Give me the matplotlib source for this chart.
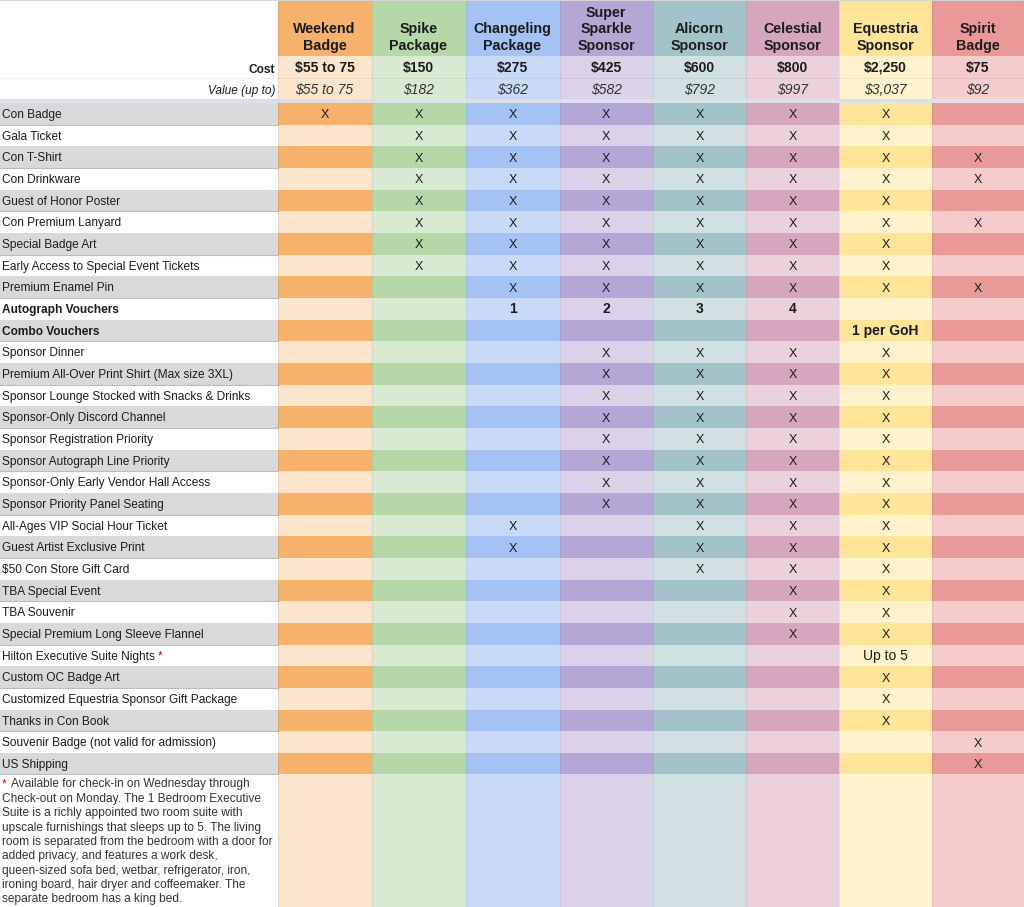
import matplotlib
matplotlib.use("Agg")
import matplotlib.pyplot as plt
from matplotlib.patches import Rectangle

plt.rcParams['font.family'] = ['Liberation Sans', 'DejaVu Sans']

tiers = ["Weekend\nBadge", "Spike\nPackage", "Changeling\nPackage", "Super\nSparkle\nSponsor",
         "Alicorn\nSponsor", "Celestial\nSponsor", "Equestria\nSponsor", "Spirit\nBadge"]
costs = ["$55 to 75", "$150", "$275", "$425", "$600", "$800", "$2,250", "$75"]
values = ["$55 to 75", "$182", "$362", "$582", "$792", "$997", "$3,037", "$92"]
dark = ["#F6B26B", "#B6D7A8", "#A4C2F4", "#B4A7D6", "#A2C4C9", "#D5A6BD", "#FFE599", "#EA9999"]
light = ["#FCE5CD", "#D9EAD3", "#C9DAF8", "#D9D2E9", "#D0E0E3", "#EAD1DC", "#FFF2CC", "#F4CCCC"]

perks = ["Con Badge", "Gala Ticket", "Con T-Shirt", "Con Drinkware", "Guest of Honor Poster",
         "Con Premium Lanyard", "Special Badge Art", "Early Access to Special Event Tickets",
         "Premium Enamel Pin", "Autograph Vouchers", "Combo Vouchers", "Sponsor Dinner",
         "Premium All-Over Print Shirt (Max size 3XL)", "Sponsor Lounge Stocked with Snacks & Drinks",
         "Sponsor-Only Discord Channel", "Sponsor Registration Priority", "Sponsor Autograph Line Priority",
         "Sponsor-Only Early Vendor Hall Access", "Sponsor Priority Panel Seating",
         "All-Ages VIP Social Hour Ticket", "Guest Artist Exclusive Print", "$50 Con Store Gift Card",
         "TBA Special Event", "TBA Souvenir", "Special Premium Long Sleeve Flannel",
         "Hilton Executive Suite Nights", "Custom OC Badge Art", "Customized Equestria Sponsor Gift Package",
         "Thanks in Con Book", "Souvenir Badge (not valid for admission)", "US Shipping"]
bold_perks = ["Autograph Vouchers", "Combo Vouchers"]

X = "X"; N = ""
marks = [
    [X, X, X, X, X, X, X, N], [N, X, X, X, X, X, X, N], [N, X, X, X, X, X, X, X], [N, X, X, X, X, X, X, X],
    [N, X, X, X, X, X, X, N], [N, X, X, X, X, X, X, X], [N, X, X, X, X, X, X, N], [N, X, X, X, X, X, X, N],
    [N, N, X, X, X, X, X, X], [N, N, "1", "2", "3", "4", N, N], [N, N, N, N, N, N, "1 per GoH", N],
    [N, N, N, X, X, X, X, N], [N, N, N, X, X, X, X, N], [N, N, N, X, X, X, X, N], [N, N, N, X, X, X, X, N],
    [N, N, N, X, X, X, X, N], [N, N, N, X, X, X, X, N], [N, N, N, X, X, X, X, N], [N, N, N, X, X, X, X, N],
    [N, N, X, N, X, X, X, N], [N, N, X, N, X, X, X, N], [N, N, N, N, X, X, X, N],
    [N, N, N, N, N, X, X, N], [N, N, N, N, N, X, X, N], [N, N, N, N, N, X, X, N],
    [N, N, N, N, N, N, "Up to 5", N], [N, N, N, N, N, N, X, N], [N, N, N, N, N, N, X, N], [N, N, N, N, N, N, X, N],
    [N, N, N, N, N, N, N, X], [N, N, N, N, N, N, N, X],
]
footnote = ["Available for check-in on Wednesday through",
            "Check-out on Monday. The 1 Bedroom Executive",
            "Suite is a richly appointed two room suite with",
            "upscale furnishings that sleeps up to 5. The living",
            "room is separated from the bedroom with a door for",
            "added privacy, and features a work desk,",
            "queen-sized sofa bed, wetbar, refrigerator, iron,",
            "ironing board, hair dryer and coffeemaker. The",
            "separate bedroom has a king bed."]

W, H = 1024, 907
fig = plt.figure(figsize=(W / 100, H / 100), dpi=100)
ax = fig.add_axes([0, 0, 1, 1])
ax.set_xlim(0, W); ax.set_ylim(H, 0); ax.axis("off")

edges = [277.5, 371.5, 465.5, 559.5, 653, 746, 839, 932, 1024]
y_head, y_cost, y_val, y_gap = 55.5, 77.5, 99, 103
row_h = (774.5 - y_gap) / len(perks)
TXT = "#1c1c1c"
FS = 8.6

def rect(x0, y0, x1, y1, c, z=1):
    ax.add_patch(Rectangle((x0, y0), x1 - x0, y1 - y0, fc=c, ec="none", lw=0, zorder=z))

rect(0, 0, W, 1, "#D4D4D4", 3)
rect(0, y_val, W, y_gap, "#DCE0E8", 3)
ax.plot([0, edges[0]], [y_cost, y_cost], color="#EEEEEE", lw=0.8, zorder=2)
ax.text(275, 72.7, "Cost", ha="right", va="baseline", fontsize=FS, fontweight="bold", color=TXT)
ax.text(275, 94, "Value (up to)", ha="right", va="baseline", fontsize=FS, style="italic", color=TXT)

for c in range(8):
    x0, x1 = edges[c], edges[c + 1]
    xc = (x0 + x1) / 2
    rect(x0, 1, x1, y_head, dark[c])
    rect(x0, y_head, x1, y_val, light[c])
    rect(x0, y_gap, x1, H, light[c])
    ax.plot([x0, x1], [y_cost, y_cost], color="#000000", alpha=0.05, lw=0.8, zorder=2)
    lines = tiers[c].split("\n")
    for k, line in enumerate(reversed(lines)):
        ax.text(xc, 50 - k * 16.6, line, ha="center", va="baseline",
                fontsize=10.3, fontweight="bold", color=TXT)
    ax.text(xc, 72, costs[c], ha="center", va="baseline", fontsize=10.1, fontweight="bold", color=TXT)
    ax.text(xc, 94, values[c], ha="center", va="baseline", fontsize=10, style="italic", color="#333333")

for r, perk in enumerate(perks):
    y0 = y_gap + r * row_h
    y1 = y0 + row_h
    base = (y0 + y1) / 2 + 4.2
    if r % 2 == 0:
        rect(0, y0, edges[0], y1, "#D9D9D9")
        for c in range(8):
            rect(edges[c], y0, edges[c + 1], y1, dark[c])
        ax.plot([0, edges[0]], [y1, y1], color="#BDBDBD", lw=0.8, zorder=2)
    is_bold = perk in bold_perks
    ax.text(2, base, perk, ha="left", va="baseline", fontsize=FS,
            fontweight="bold" if is_bold else "normal", color=TXT)
    if perk.startswith("Hilton"):
        ax.text(157.5, base, "*", ha="left", va="baseline", fontsize=FS, color="#E00000")
    for c in range(8):
        m = marks[r][c]
        if m:
            txt_bold = m != X and m != "Up to 5"
            ax.text((edges[c] + edges[c + 1]) / 2, base + 0.3, m, ha="center", va="baseline",
                    fontsize=10 if m != X else 9, fontweight="bold" if txt_bold else "normal", color=TXT)

for e in edges:
    ax.plot([e, e], [1, H], color="#000000", alpha=0.06, lw=0.8, zorder=2)

for i, line in enumerate(footnote):
    ax.text(11 if i == 0 else 2, 787.5 + i * 14.35, line, ha="left", va="baseline", fontsize=FS, color="#333333")
ax.text(2, 787.5, "*", ha="left", va="baseline", fontsize=FS, color="#E00000")

fig.savefig("out.png", dpi=100)
